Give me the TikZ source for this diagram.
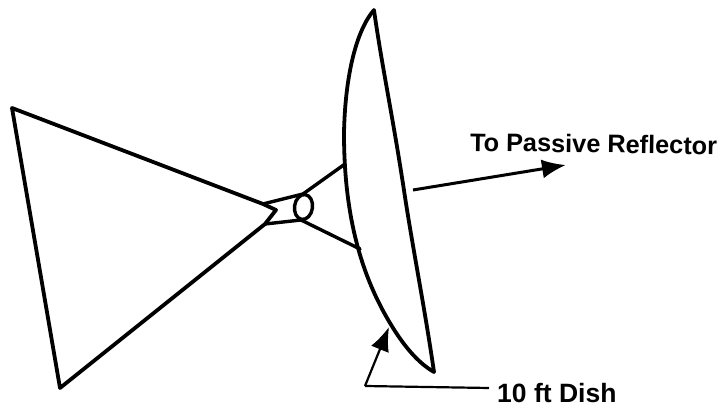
\documentclass[tikz,border=0pt]{standalone}
\usepackage{fontspec}
\setmainfont{Liberation Sans}
\usetikzlibrary{arrows.meta}
\tikzset{
  heavy/.style={draw=black,line width=3.8pt,line join=round,line cap=round},
  medium/.style={draw=black,line width=3.4pt,line join=round,line cap=round},
  leader/.style={draw=black,line width=2.2pt,line join=round},
  label/.style={font=\bfseries\fontsize{25.3}{28}\selectfont,inner sep=0pt,anchor=west,text=black},
  bighead/.style={-{Latex[length=24pt,width=19pt]}}
}
\begin{document}
\begin{tikzpicture}[x=1pt,y=-1pt]
\useasboundingbox (0,0) rectangle (724,411);
% named points
\coordinate (triA) at (12,108);
\coordinate (triB) at (60,388);
\coordinate (notchT) at (263,204);
\coordinate (notchM) at (276,210);
\coordinate (notchB) at (265,224);
\coordinate (feedT) at (303,194);
\coordinate (feedB) at (301,220);
\coordinate (strutT) at (345,164);
\coordinate (strutB) at (360,249);
\coordinate (dishTop) at (374,10);
\coordinate (dishBot) at (434,372);
\coordinate (beamS) at (413,190);
\coordinate (beamE) at (566,165);
\coordinate (elbow) at (365,386);
\coordinate (leadTip) at (389,327);
\coordinate (leadEnd) at (489,388);
% truss triangle
\draw[heavy] (notchT) -- (triA) -- (triB) -- (notchB) -- (notchM) -- (notchT);
% feed
\draw[medium] (notchT) -- (feedT);
\draw[medium] (notchB) -- (feedB);
\draw[medium,rotate around={-8:(303.5,207)}] (303.5,207) ellipse [x radius=9,y radius=12.5];
% struts
\draw[medium] (feedT) -- (strutT);
\draw[medium] (feedB) -- (strutB);
% dish
\draw[heavy] (dishTop) .. controls (382,67) and (393,117) .. (405,197)
  .. controls (414,255) and (425,310) .. (dishBot);
\draw[heavy] (dishTop) .. controls (355,32) and (345,80) .. (344,133)
  .. controls (344,200) and (355,265) .. (390,323)
  .. controls (403,345) and (418,363) .. (dishBot);
% arrows
\draw[leader,bighead,line width=3pt] (beamS) -- (beamE);
\draw[leader] (leadEnd) -- (elbow);
\draw[leader,bighead] (elbow) -- (leadTip);
% labels
\node[label,rotate=-0.8] (reflector) at (470,142) {To Passive Reflector};
\node[label,font=\bfseries\fontsize{26.5}{28}\selectfont] (dish) at (497,393) {10 ft Dish};
\end{tikzpicture}
\end{document}
